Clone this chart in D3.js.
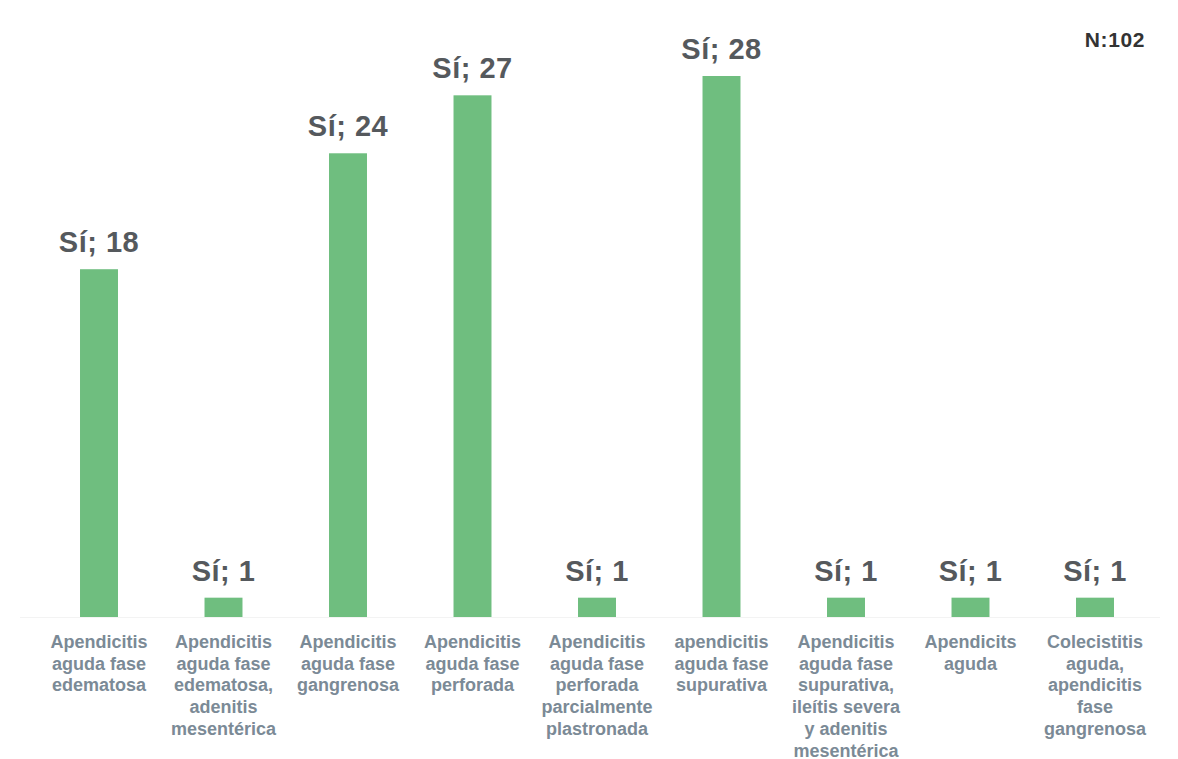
<!DOCTYPE html>
<html>
<head>
<meta charset="utf-8">
<script src="https://cdn.jsdelivr.net/npm/d3@7"></script>
<style>
  html, body { margin: 0; padding: 0; background: #ffffff; }
  svg { display: block; }
</style>
</head>
<body>
<svg id="chart" width="1178" height="759"></svg>
<script>
const categories = [
  ["Apendicitis", "aguda fase", "edematosa"],
  ["Apendicitis", "aguda fase", "edematosa,", "adenitis", "mesentérica"],
  ["Apendicitis", "aguda fase", "gangrenosa"],
  ["Apendicitis", "aguda fase", "perforada"],
  ["Apendicitis", "aguda fase", "perforada", "parcialmente", "plastronada"],
  ["apendicitis", "aguda fase", "supurativa"],
  ["Apendicitis", "aguda fase", "supurativa,", "ileítis severa", "y adenitis", "mesentérica"],
  ["Apendicits", "aguda"],
  ["Colecistitis", "aguda,", "apendicitis", "fase", "gangrenosa"]
];
const seriesName = "Sí";
const values = [18, 1, 24, 27, 1, 28, 1, 1, 1];
const totalLabel = "N:102";

const svg = d3.select("#chart");
const baseY = 617;
const x = d3.scaleBand()
  .domain(d3.range(categories.length))
  .range([36.75, 1157.25])
  .paddingInner(0.695)
  .paddingOuter(0.3475);
const y = d3.scaleLinear().domain([0, 28]).range([baseY, 76]);

// faint baseline
svg.append("line")
  .attr("x1", 20).attr("x2", 1160)
  .attr("y1", baseY + 0.5).attr("y2", baseY + 0.5)
  .attr("stroke", "#f3f3f3").attr("stroke-width", 1);

const g = svg.append("g");
g.selectAll("rect.bar").data(values).join("rect")
  .attr("class", "bar")
  .attr("x", (d, i) => x(i))
  .attr("width", x.bandwidth())
  .attr("y", d => y(d))
  .attr("height", d => baseY - y(d))
  .attr("fill", "#6fbe7f");

g.selectAll("text.val").data(values).join("text")
  .attr("class", "val")
  .attr("x", (d, i) => x(i) + x.bandwidth() / 2)
  .attr("y", d => y(d) - 17)
  .attr("text-anchor", "middle")
  .attr("font-family", "Liberation Sans, Arial, sans-serif")
  .attr("font-weight", "bold")
  .attr("font-size", 29)
  .attr("letter-spacing", 0.5)
  .attr("fill", "#55595d")
  .text(d => seriesName + "; " + d);

const labels = g.selectAll("text.cat").data(categories).join("text")
  .attr("class", "cat")
  .attr("x", (d, i) => x(i) + x.bandwidth() / 2)
  .attr("y", baseY + 31)
  .attr("text-anchor", "middle")
  .attr("font-family", "Liberation Sans, Arial, sans-serif")
  .attr("font-weight", "bold")
  .attr("font-size", 18)
  .attr("fill", "#7b8a96");
labels.each(function(lines, i) {
  d3.select(this).selectAll("tspan").data(lines).join("tspan")
    .attr("x", x(i) + x.bandwidth() / 2)
    .attr("dy", (l, j) => j === 0 ? 0 : 21.7)
    .text(l => l);
});

svg.append("text")
  .attr("x", 1145).attr("y", 47)
  .attr("text-anchor", "end")
  .attr("font-family", "Liberation Sans, Arial, sans-serif")
  .attr("font-weight", "bold")
  .attr("font-size", 21)
  .attr("letter-spacing", 0.6)
  .attr("fill", "#333333")
  .text(totalLabel);
</script>
</body>
</html>
